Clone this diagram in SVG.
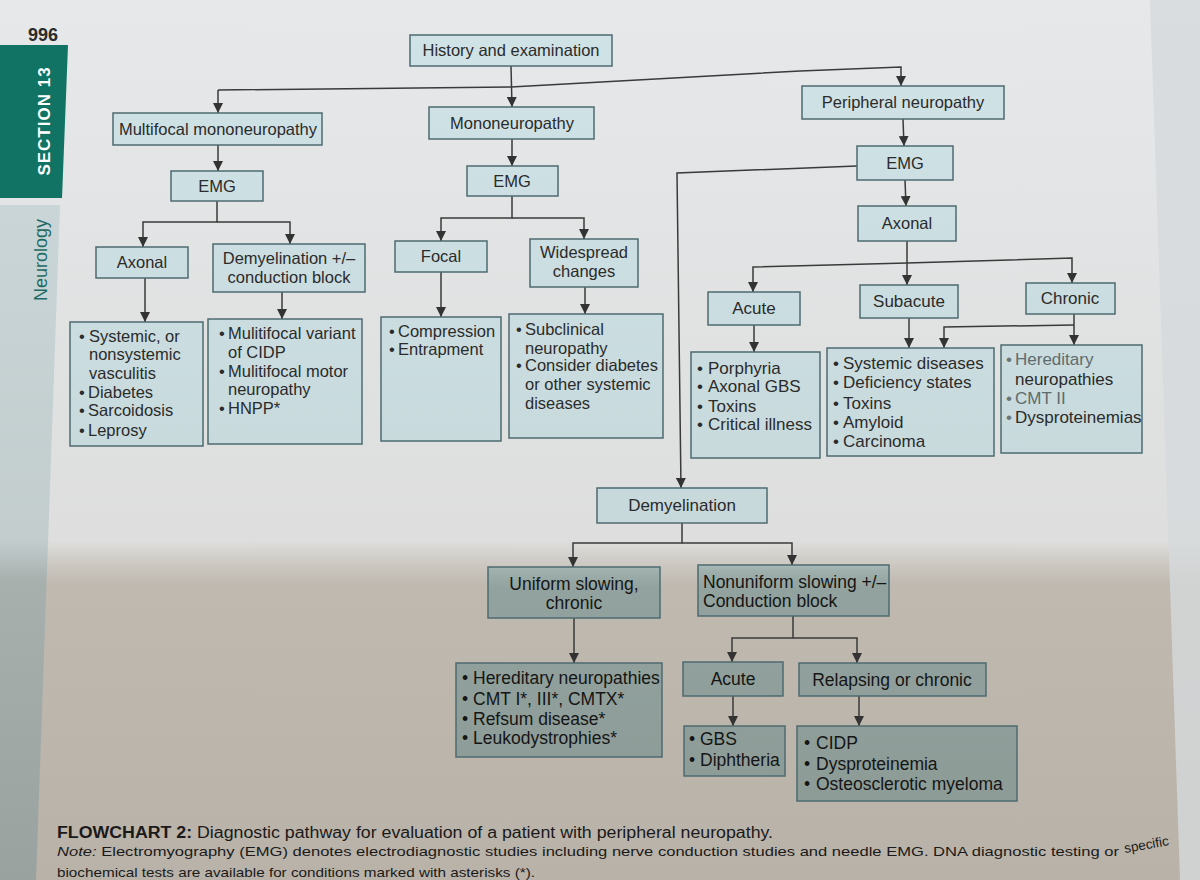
<svg xmlns="http://www.w3.org/2000/svg" width="1200" height="880" viewBox="0 0 1200 880">
<defs>
<linearGradient id="pageg" gradientUnits="userSpaceOnUse" x1="0" y1="0" x2="0" y2="880">
<stop offset="0" stop-color="#e6e8ea"/>
<stop offset="0.615" stop-color="#dddedd"/>
<stop offset="0.645" stop-color="#cac5be"/>
<stop offset="0.665" stop-color="#bfb9b0"/>
<stop offset="1" stop-color="#b9b2a8"/>
</linearGradient>
<linearGradient id="boxg" gradientUnits="userSpaceOnUse" x1="0" y1="0" x2="0" y2="880">
<stop offset="0" stop-color="#d0e3e7"/>
<stop offset="0.625" stop-color="#c6d8da"/>
<stop offset="0.648" stop-color="#9fb0ad"/>
<stop offset="0.668" stop-color="#92a29e"/>
<stop offset="1" stop-color="#8b9994"/>
</linearGradient>
<linearGradient id="stripg" gradientUnits="userSpaceOnUse" x1="0" y1="200" x2="0" y2="880">
<stop offset="0" stop-color="#c9d5d7"/>
<stop offset="0.5" stop-color="#c3cdce"/>
<stop offset="0.56" stop-color="#a8b0ae"/>
<stop offset="1" stop-color="#9aa29f"/>
</linearGradient>
<marker id="arr" viewBox="0 0 10 10" refX="10" refY="5" markerWidth="10" markerHeight="10" markerUnits="userSpaceOnUse" orient="auto">
<path d="M0,0 L10,5 L0,10 z" fill="#333"/>
</marker>
<style>
.box{fill:url(#boxg);stroke:#4e6b70;stroke-width:1.5}
.t{font-family:"Liberation Sans",Arial,sans-serif;font-size:16.5px;fill:#2b2b2b}
.c{text-anchor:middle}
.m{font-size:17px}
.b{font-size:17.5px;fill:#151515}
.ca{fill:none;stroke:#3a3a3a;stroke-width:1.5;marker-end:url(#arr)}
.cap{font-family:"Liberation Sans",Arial,sans-serif;fill:#1a1a1a}
</style>
</defs>

<!-- page -->
<rect x="0" y="0" width="1200" height="880" fill="url(#pageg)"/>
<polygon points="1150,0 1200,0 1200,880 1180,880" fill="#d6d9dc" opacity="0.8"/>
<polygon points="0,45 68,45 62,198 0,198" fill="#117364"/>
<polygon points="0,205 60,205 36,880 0,880" fill="url(#stripg)"/>
<text x="28" y="41" font-family="Liberation Sans,Arial,sans-serif" font-size="18" font-weight="bold" fill="#2b2b2b">996</text>
<text transform="translate(50,121) rotate(-90)" text-anchor="middle" font-family="Liberation Sans,Arial,sans-serif" font-size="17" font-weight="bold" letter-spacing="1" fill="#ffffff">SECTION 13</text>
<text transform="translate(47,260) rotate(-90)" text-anchor="middle" font-family="Liberation Sans,Arial,sans-serif" font-size="18" fill="#1e6b63">Neurology</text>

<!-- connectors -->
<g id="connectors">
<path class="ca" d="M511,66 L512,107"/>
<path class="ca" d="M218,90 L218,113"/>
<path class="ca" d="M218,90 L511,87 L800,71 L901,67 L901,86"/>
<path class="ca" d="M218,145 V171"/>
<path class="ca" d="M512,139 V166"/>
<path class="ca" d="M903,119 L904,146"/>
<path class="ca" d="M905,180 L906,206"/>
<path class="ca" d="M857,166 L677,173 L681,488"/>
<path class="ca" d="M217,201 V222 H143 V247"/>
<path class="ca" d="M217,222 H290 V244"/>
<path class="ca" d="M512,196 V218 H441 V241"/>
<path class="ca" d="M512,218 H584 V239"/>
<path class="ca" d="M907,241 V285"/>
<path class="ca" d="M907,263 L753,267 V292"/>
<path class="ca" d="M907,263 L1072,258 V283"/>
<path class="ca" d="M145,278 V322"/>
<path class="ca" d="M282,292 V319"/>
<path class="ca" d="M441,272 V317"/>
<path class="ca" d="M585,287 V314"/>
<path class="ca" d="M754,325 V352"/>
<path class="ca" d="M909,318 V348"/>
<path class="ca" d="M1074,314 V345"/>
<path class="ca" d="M1074,325 L944,327 V348"/>
<path class="ca" d="M682,523 V543 H573 V567"/>
<path class="ca" d="M682,543 H792 V565"/>
<path class="ca" d="M574,618 V663"/>
<path class="ca" d="M793,616 V638 H732 V662"/>
<path class="ca" d="M793,638 H857 V663"/>
<path class="ca" d="M733,696 V726"/>
<path class="ca" d="M859,696 V726"/>
</g>

<!-- nodes -->
<g id="n-history"><rect class="box" x="410" y="35" width="202" height="31"/><text class="t c" x="511" y="56">History and examination</text></g>
<g id="n-multifocal"><rect class="box" x="113" y="113" width="209" height="32"/><text class="t c" x="218" y="135">Multifocal mononeuropathy</text></g>
<g id="n-mono"><rect class="box" x="429" y="107" width="165" height="32"/><text class="t c" x="512" y="129">Mononeuropathy</text></g>
<g id="n-peripheral"><rect class="box" x="802" y="86" width="202" height="33"/><text class="t c" x="903" y="108">Peripheral neuropathy</text></g>
<g id="n-emg-left"><rect class="box" x="171" y="171" width="92" height="30"/><text class="t c" x="217" y="192">EMG</text></g>
<g id="n-emg-mid"><rect class="box" x="467" y="166" width="91" height="30"/><text class="t c" x="512" y="187">EMG</text></g>
<g id="n-emg-right"><rect class="box" x="857" y="146" width="96" height="34"/><text class="t c" x="905" y="169">EMG</text></g>
<g id="n-axonal-right"><rect class="box" x="858" y="206" width="98" height="35"/><text class="t c" x="907" y="229">Axonal</text></g>
<g id="n-axonal-left"><rect class="box" x="96" y="247" width="92" height="31"/><text class="t c" x="142" y="268">Axonal</text></g>
<g id="n-demyel-cb"><rect class="box" x="213" y="244" width="152" height="48"/><text class="t c"><tspan x="289" y="264">Demyelination +/–</tspan><tspan x="289" y="283">conduction block</tspan></text></g>
<g id="n-focal"><rect class="box" x="395" y="241" width="92" height="31"/><text class="t c" x="441" y="262">Focal</text></g>
<g id="n-widespread"><rect class="box" x="530" y="239" width="108" height="48"/><text class="t c"><tspan x="584" y="258">Widespread</tspan><tspan x="584" y="277">changes</tspan></text></g>
<g id="n-acute-axonal"><rect class="box" x="708" y="292" width="92" height="33"/><text class="t m c" x="754" y="314">Acute</text></g>
<g id="n-subacute"><rect class="box" x="860" y="285" width="98" height="33"/><text class="t m c" x="909" y="307">Subacute</text></g>
<g id="n-chronic-axonal"><rect class="box" x="1026" y="283" width="89" height="31"/><text class="t m c" x="1070" y="304">Chronic</text></g>

<g id="n-list-vasculitis"><rect class="box" x="70" y="322" width="133" height="124"/>
<text class="t"><tspan x="79" y="342">•</tspan><tspan x="89" y="342">Systemic, or</tspan><tspan x="89" y="360">nonsystemic</tspan><tspan x="89" y="379">vasculitis</tspan><tspan x="79" y="398">•</tspan><tspan x="88" y="398">Diabetes</tspan><tspan x="79" y="416">•</tspan><tspan x="88" y="416">Sarcoidosis</tspan><tspan x="79" y="436">•</tspan><tspan x="88" y="436">Leprosy</tspan></text></g>
<g id="n-list-cidp-variant"><rect class="box" x="208" y="319" width="154" height="125"/>
<text class="t"><tspan x="219" y="339">•</tspan><tspan x="228" y="339">Mulitifocal variant</tspan><tspan x="228" y="358">of CIDP</tspan><tspan x="219" y="377">•</tspan><tspan x="228" y="377">Mulitifocal motor</tspan><tspan x="228" y="395">neuropathy</tspan><tspan x="219" y="414">•</tspan><tspan x="228" y="414">HNPP*</tspan></text></g>
<g id="n-list-compression"><rect class="box" x="381" y="317" width="120" height="124"/>
<text class="t"><tspan x="389" y="337">•</tspan><tspan x="398" y="337">Compression</tspan><tspan x="389" y="355">•</tspan><tspan x="398" y="355">Entrapment</tspan></text></g>
<g id="n-list-subclinical"><rect class="box" x="509" y="314" width="154" height="124"/>
<text class="t"><tspan x="516" y="335">•</tspan><tspan x="525" y="335">Subclinical</tspan><tspan x="525" y="354">neuropathy</tspan><tspan x="516" y="371">•</tspan><tspan x="525" y="371">Consider diabetes</tspan><tspan x="525" y="390">or other systemic</tspan><tspan x="525" y="409">diseases</tspan></text></g>

<g id="n-list-acute"><rect class="box" x="691" y="352" width="129" height="106"/>
<text class="t m"><tspan x="697" y="374">•</tspan><tspan x="708" y="374">Porphyria</tspan><tspan x="697" y="392">•</tspan><tspan x="708" y="392">Axonal GBS</tspan><tspan x="697" y="412">•</tspan><tspan x="708" y="412">Toxins</tspan><tspan x="697" y="430">•</tspan><tspan x="708" y="430">Critical illness</tspan></text></g>
<g id="n-list-subacute"><rect class="box" x="827" y="348" width="167" height="108"/>
<text class="t m"><tspan x="833" y="369">•</tspan><tspan x="843" y="369">Systemic diseases</tspan><tspan x="833" y="388">•</tspan><tspan x="843" y="388">Deficiency states</tspan><tspan x="833" y="409">•</tspan><tspan x="843" y="409">Toxins</tspan><tspan x="833" y="428">•</tspan><tspan x="843" y="428">Amyloid</tspan><tspan x="833" y="447">•</tspan><tspan x="843" y="447">Carcinoma</tspan></text></g>
<g id="n-list-chronic"><rect class="box" x="1001" y="345" width="141" height="108"/>
<text class="t m"><tspan x="1006" y="365" fill="#6a7678">•</tspan><tspan x="1015" y="365" fill="#5f6b6d">Hereditary</tspan><tspan x="1015" y="385">neuropathies</tspan><tspan x="1006" y="404" fill="#6a7678">•</tspan><tspan x="1015" y="404" fill="#5f6b6d">CMT II</tspan><tspan x="1006" y="423" fill="#6a7678">•</tspan><tspan x="1015" y="423">Dysproteinemias</tspan></text></g>

<g id="n-demyelination"><rect class="box" x="597" y="488" width="170" height="35"/><text class="t m c" x="682" y="511">Demyelination</text></g>
<g id="n-uniform"><rect class="box" x="488" y="567" width="172" height="51"/><text class="t b c"><tspan x="574" y="590">Uniform slowing,</tspan><tspan x="574" y="609">chronic</tspan></text></g>
<g id="n-nonuniform"><rect class="box" x="698" y="565" width="191" height="51"/><text class="t b"><tspan x="703" y="588">Nonuniform slowing +/–</tspan><tspan x="703" y="607">Conduction block</tspan></text></g>
<g id="n-list-hereditary"><rect class="box" x="456" y="663" width="206" height="94"/>
<text class="t b"><tspan x="462" y="684">•</tspan><tspan x="473" y="684">Hereditary neuropathies</tspan><tspan x="462" y="705">•</tspan><tspan x="473" y="705">CMT I*, III*, CMTX*</tspan><tspan x="462" y="725">•</tspan><tspan x="473" y="725">Refsum disease*</tspan><tspan x="462" y="744">•</tspan><tspan x="473" y="744">Leukodystrophies*</tspan></text></g>
<g id="n-acute-demyel"><rect class="box" x="683" y="662" width="100" height="34"/><text class="t b c" x="733" y="685">Acute</text></g>
<g id="n-relapsing"><rect class="box" x="799" y="663" width="187" height="33"/><text class="t b c" x="892" y="686">Relapsing or chronic</text></g>
<g id="n-list-gbs"><rect class="box" x="684" y="726" width="101" height="50"/>
<text class="t b"><tspan x="689" y="745">•</tspan><tspan x="700" y="745">GBS</tspan><tspan x="689" y="766">•</tspan><tspan x="700" y="766">Diphtheria</tspan></text></g>
<g id="n-list-cidp"><rect class="box" x="797" y="726" width="220" height="75"/>
<text class="t b"><tspan x="804" y="749">•</tspan><tspan x="816" y="749">CIDP</tspan><tspan x="804" y="770">•</tspan><tspan x="816" y="770">Dysproteinemia</tspan><tspan x="804" y="790">•</tspan><tspan x="816" y="790">Osteosclerotic myeloma</tspan></text></g>

<!-- caption -->
<text class="cap" x="57" y="838" font-size="16" textLength="716" lengthAdjust="spacingAndGlyphs"><tspan font-weight="bold">FLOWCHART 2:</tspan> Diagnostic pathway for evaluation of a patient with peripheral neuropathy.</text>
<text class="cap" x="57" y="856" font-size="13.5" textLength="1062" lengthAdjust="spacingAndGlyphs"><tspan font-style="italic">Note:</tspan> Electromyography (EMG) denotes electrodiagnostic studies including nerve conduction studies and needle EMG. DNA diagnostic testing or</text>
<text class="cap" transform="translate(1125,853) rotate(-10)" font-size="13.5">specific</text>
<text class="cap" x="57" y="877" font-size="13.5" textLength="478" lengthAdjust="spacingAndGlyphs">biochemical tests are available for conditions marked with asterisks (*).</text>
</svg>
